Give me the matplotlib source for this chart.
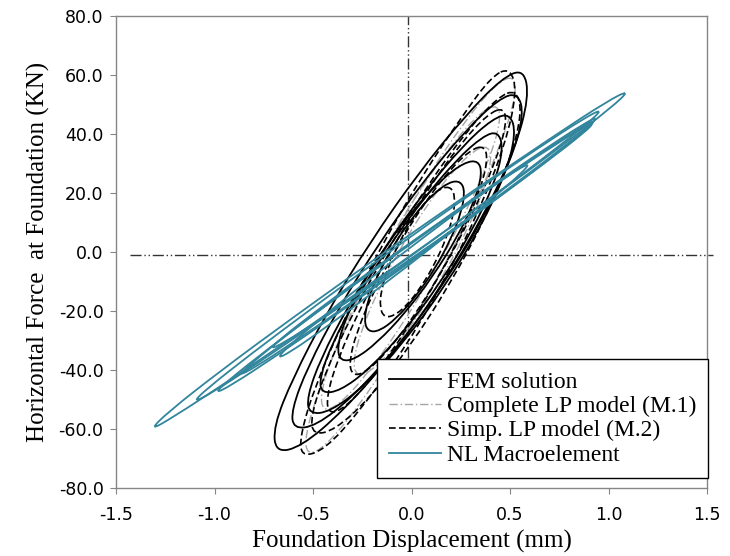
import numpy as np
import matplotlib.pyplot as plt
from matplotlib.path import Path
from matplotlib.patches import PathPatch
from matplotlib.lines import Line2D

# ---------------------------------------------------------------
# Hysteresis loops (displacement mm, force kN)
# ---------------------------------------------------------------
fem_loop_1 = [(0.57, 62.0), (0.596, 52.5), (0.525, 34.9), (0.369, 12.6), (0.147, -12.2),
              (-0.105, -35.6), (-0.351, -54.1), (-0.560, -66.0), (-0.69, -68.0), (-0.700, -59.0),
              (-0.603, -42.8), (-0.434, -21.0), (-0.208, 3.6), (0.040, 27.2), (0.273, 46.2),
              (0.460, 59.0)]
fem_loop_2 = [(0.54, 54.0), (0.570, 46.5), (0.506, 31.4), (0.363, 11.1), (0.159, -11.4),
              (-0.073, -32.5), (-0.300, -49.2), (-0.484, -58.9), (-0.60, -60.0), (-0.609, -53.4),
              (-0.528, -39.1), (-0.373, -19.3), (-0.165, 3.0), (0.063, 24.3), (0.278, 41.5),
              (0.445, 52.0)]
fem_loop_3 = [(0.50, 47.0), (0.530, 40.1), (0.477, 26.5), (0.349, 8.2), (0.168, -11.8),
              (-0.041, -30.8), (-0.245, -45.7), (-0.412, -54.1), (-0.52, -55.0), (-0.530, -49.0),
              (-0.461, -36.1), (-0.322, -18.3), (-0.137, 1.6), (0.068, 20.7), (0.261, 36.1),
              (0.412, 45.2)]
fem_loop_4 = [(0.44, 40.9), (0.466, 34.9), (0.420, 23.1), (0.307, 7.1), (0.148, -10.3),
              (-0.036, -26.8), (-0.216, -39.8), (-0.363, -47.1), (-0.458, -47.9), (-0.466, -42.6),
              (-0.406, -31.4), (-0.283, -15.9), (-0.121, 1.4), (0.060, 18.0), (0.230, 31.4),
              (0.363, 39.3)]
fem_loop_5 = [(0.34, 31.0), (0.358, 26.4), (0.320, 17.3), (0.233, 5.1), (0.108, -8.3),
              (-0.035, -20.9), (-0.174, -30.7), (-0.288, -36.4), (-0.36, -37.0), (-0.378, -32.4),
              (-0.340, -23.3), (-0.253, -11.1), (-0.128, 2.3), (0.015, 14.9), (0.154, 24.7),
              (0.268, 30.4)]
fem_loop_6 = [(0.25, 24.0), (0.271, 20.4), (0.252, 13.3), (0.198, 4.1), (0.116, -6.0),
              (0.018, -15.4), (-0.080, -22.7), (-0.163, -26.8), (-0.22, -27.0), (-0.241, -23.4),
              (-0.222, -16.3), (-0.168, -7.1), (-0.086, 3.0), (0.012, 12.4), (0.110, 19.7),
              (0.193, 23.8)]

m1_loop_1 = [(0.52, 60.0), (0.531, 53.2), (0.461, 37.7), (0.320, 15.7), (0.129, -9.35),
             (-0.082, -33.7), (-0.281, -53.5), (-0.439, -66.0), (-0.53, -69.0), (-0.541, -62.2),
             (-0.471, -46.7), (-0.330, -24.7), (-0.139, 0.35), (0.072, 24.7), (0.271, 44.5),
             (0.429, 57.0)]
m1_loop_2 = [(0.44, 50.0), (0.452, 44.1), (0.395, 31.3), (0.276, 13.4), (0.115, -6.9),
             (-0.064, -26.4), (-0.235, -42.3), (-0.370, -51.9), (-0.45, -54.0), (-0.462, -48.1),
             (-0.405, -35.3), (-0.286, -17.4), (-0.125, 2.9), (0.054, 22.4), (0.225, 38.3),
             (0.360, 47.9)]
m1_loop_3 = [(0.39, 36.0), (0.407, 31.2), (0.370, 21.4), (0.285, 7.7), (0.165, -7.6),
             (0.029, -22.2), (-0.104, -33.9), (-0.213, -40.8), (-0.28, -42.0), (-0.297, -37.2),
             (-0.260, -27.4), (-0.175, -13.7), (-0.055, 1.6), (0.081, 16.2), (0.214, 27.9),
             (0.323, 34.8)]

m2_loop_1 = [(0.50, 62.5), (0.535, 54.5), (0.479, 37.3), (0.350, 14.9), (0.163, -10.3),
             (-0.052, -34.5), (-0.263, -53.9), (-0.440, -67.0), (-0.56, -69.5), (-0.565, -62.0),
             (-0.491, -45.7), (-0.350, -23.7), (-0.159, 1.35), (0.052, 25.7), (0.251, 45.5),
             (0.405, 59.5)]
m2_loop_2 = [(0.53, 55.0), (0.561, 47.8), (0.508, 32.7), (0.380, 12.2), (0.197, -10.8),
             (-0.014, -32.6), (-0.220, -50.1), (-0.391, -60.4), (-0.50, -62.0), (-0.511, -55.6),
             (-0.441, -41.2), (-0.302, -21.1), (-0.115, 1.7), (0.092, 23.7), (0.287, 41.6),
             (0.441, 52.6)]
m2_loop_3 = [(0.47, 49.0), (0.482, 43.1), (0.425, 30.3), (0.306, 12.4), (0.145, -7.9),
             (-0.034, -27.4), (-0.205, -43.3), (-0.340, -52.9), (-0.42, -55.0), (-0.432, -49.1),
             (-0.375, -36.3), (-0.256, -18.4), (-0.095, 1.9), (0.084, 21.4), (0.255, 37.3),
             (0.390, 46.9)]
m2_loop_4 = [(0.37, 36.0), (0.387, 31.2), (0.350, 21.4), (0.265, 7.7), (0.145, -7.6),
             (0.009, -22.2), (-0.124, -33.9), (-0.233, -40.8), (-0.30, -42.0), (-0.317, -37.2),
             (-0.280, -27.4), (-0.195, -13.7), (-0.075, 1.6), (0.061, 16.2), (0.194, 27.9),
             (0.303, 34.8)]
m2_loop_5 = [(0.20, 22.0), (0.221, 18.9), (0.214, 12.9), (0.178, 4.9), (0.120, -3.8),
             (0.048, -11.9), (-0.026, -18.3), (-0.093, -21.8), (-0.14, -22.0), (-0.161, -18.8),
             (-0.154, -12.9), (-0.118, -4.9), (-0.060, 3.8), (0.012, 11.9), (0.086, 18.3),
             (0.153, 21.8)]

nl_loop_1 = [(1.11, 55.0), (1.015, 49.0), (0.756, 35.6), (0.374, 16.8), (-0.084, -5.0),
             (-0.546, -26.4), (-0.940, -44.2), (-1.215, -56.2), (-1.33, -60.5), (-1.235, -54.2),
             (-0.976, -40.6), (-0.594, -21.8), (-0.136, 0.0), (0.326, 21.4), (0.720, 39.2),
             (0.995, 51.2)]
nl_loop_2 = [(0.97, 48.5), (0.900, 43.9), (0.682, 32.4), (0.350, 15.8), (-0.046, -3.45),
             (-0.446, -22.4), (-0.788, -38.0), (-1.022, -48.1), (-1.11, -51.0), (-1.040, -46.4),
             (-0.822, -34.9), (-0.490, -18.3), (-0.094, 0.95), (0.306, 19.9), (0.648, 35.5),
             (0.882, 45.6)]
nl_loop_3 = [(0.94, 45.0), (0.874, 40.7), (0.672, 30.0), (0.362, 14.5), (-0.008, -3.5),
             (-0.382, -21.2), (-0.700, -35.8), (-0.918, -45.3), (-1.00, -48.0), (-0.934, -43.7),
             (-0.732, -33.0), (-0.422, -17.5), (-0.052, 0.5), (0.322, 18.2), (0.640, 32.8),
             (0.858, 42.3)]
nl_loop_4 = [(0.95, 46.0), (0.888, 41.9), (0.697, 31.7), (0.404, 17.1), (0.056, 0.07),
             (-0.296, -16.7), (-0.597, -30.5), (-0.802, -39.4), (-0.88, -42.0), (-0.818, -37.96),
             (-0.627, -27.7), (-0.334, -13.1), (0.014, 3.9), (0.366, 20.7), (0.667, 34.5),
             (0.872, 43.4)]
nl_loop_5 = [(0.93, 44.0), (0.875, 40.4), (0.702, 31.4), (0.439, 18.4), (0.125, 3.6),
             (-0.193, -11.0), (-0.464, -23.0), (-0.649, -30.8), (-0.72, -33.0), (-0.665, -29.4),
             (-0.492, -20.4), (-0.229, -7.4), (0.085, 7.4), (0.403, 22.0), (0.674, 34.0),
             (0.859, 41.8)]
nl_loop_6 = [(0.60, 30.0), (0.559, 26.8), (0.426, 19.0), (0.223, 7.9), (-0.020, -4.8),
             (-0.267, -17.3), (-0.478, -27.6), (-0.623, -34.2), (-0.68, -36.0), (-0.639, -32.8),
             (-0.506, -25.0), (-0.303, -13.9), (-0.060, -1.2), (0.187, 11.3), (0.398, 21.6),
             (0.543, 28.2)]

fem_loops = [fem_loop_1, fem_loop_2, fem_loop_3, fem_loop_4, fem_loop_5, fem_loop_6]
m1_loops = [m1_loop_1, m1_loop_2, m1_loop_3]
m2_loops = [m2_loop_1, m2_loop_2, m2_loop_3, m2_loop_4, m2_loop_5]
nl_loops = [nl_loop_1, nl_loop_2, nl_loop_3, nl_loop_4, nl_loop_5, nl_loop_6]

# dash-dot reference axes drawn in the figure
vline_x = -0.02
vline_y = [-36.0, 80.0]
hline_y = -1.0
hline_x = [-1.43, 1.53]

x_ticks = [-1.5, -1.0, -0.5, 0.0, 0.5, 1.0, 1.5]
y_ticks = [-80, -60, -40, -20, 0, 20, 40, 60, 80]

TEAL = "#31859C"
AXIS_GRAY = "#868686"
DASH_DOT_DOT = (0, (8, 2, 1, 2, 1, 2))

series = [
    ("FEM solution", fem_loops, dict(color="black", lw=1.3, linestyle="-", zorder=3)),
    ("Complete LP model (M.1)", m1_loops,
     dict(color="#a6a6a6", lw=1.0, linestyle=(0, (6, 2, 1, 2)), zorder=2)),
    ("Simp. LP model (M.2)", m2_loops,
     dict(color="black", lw=1.2, linestyle=(0, (4, 2)), zorder=3)),
    ("NL Macroelement", nl_loops, dict(color=TEAL, lw=1.3, linestyle="-", zorder=4)),
]


def loop_path(loop):
    # closed smooth outline: the read points act as quadratic control points
    pts = np.array(loop)
    mids = (pts + np.roll(pts, -1, axis=0)) / 2
    verts = [mids[-1]]
    codes = [Path.MOVETO]
    for p, m in zip(pts, mids):
        verts += [p, m]
        codes += [Path.CURVE3, Path.CURVE3]
    return Path(verts, codes)


fig = plt.figure(figsize=(7.3, 5.56), dpi=100)
ax = fig.add_axes([0.159, 0.1223, 0.8095, 0.8489])

ax.plot([vline_x, vline_x], vline_y, color="#333333", lw=1.0,
        linestyle=DASH_DOT_DOT, zorder=1)
ax.plot(hline_x, [hline_y, hline_y], color="#333333", lw=1.0,
        linestyle=DASH_DOT_DOT, zorder=1, clip_on=False)

handles = []
for label, loops, style in series:
    for loop in loops:
        ax.add_patch(PathPatch(loop_path(loop), facecolor="none", edgecolor=style["color"],
                               lw=style["lw"], linestyle=style["linestyle"],
                               zorder=style["zorder"]))
    handles.append(Line2D([], [], color=style["color"], lw=style["lw"],
                          linestyle=style["linestyle"], label=label))

ax.set_xlim(-1.5, 1.5)
ax.set_ylim(-80, 80)
ax.set_xticks(x_ticks)
ax.set_yticks(y_ticks)
ax.set_xticklabels([f"{v:.1f}" for v in x_ticks], fontname="DejaVu Sans", fontsize=12.5)
ax.set_yticklabels([f"{v:.1f}" for v in y_ticks], fontname="DejaVu Sans", fontsize=12.5)
ax.tick_params(axis="both", direction="out", length=4, color=AXIS_GRAY)
ax.tick_params(axis="x", pad=9)
ax.tick_params(axis="y", pad=5)
for sp in ax.spines.values():
    sp.set_color(AXIS_GRAY)
    sp.set_linewidth(1.0)

ax.set_xlabel("Foundation Displacement (mm)", fontname="Liberation Serif",
              fontsize=18, labelpad=4)
ax.set_ylabel("Horizontal Force  at Foundation (KN)", fontname="Liberation Serif",
              fontsize=18, labelpad=6)

leg = ax.legend(handles=handles, loc="lower right", bbox_to_anchor=(1.002, 0.022),
                prop={"family": "Liberation Serif", "size": 17},
                frameon=True, fancybox=False, edgecolor="black", framealpha=1,
                handlelength=2.2, handletextpad=0.25, labelspacing=0.12,
                borderpad=0.5, borderaxespad=0)
leg.get_frame().set_linewidth(1.0)

fig.savefig("out.png", dpi=100)
